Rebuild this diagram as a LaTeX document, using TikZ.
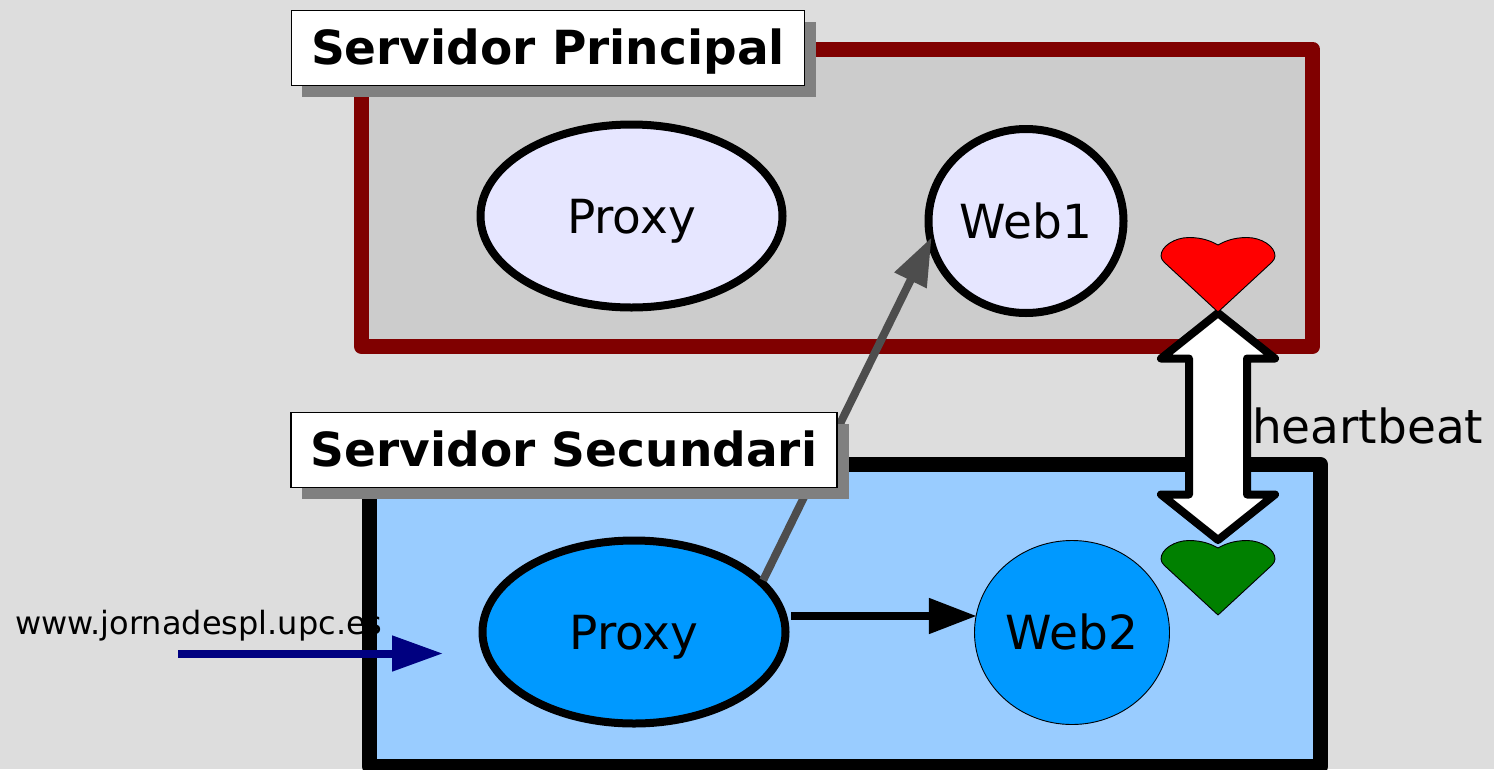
\documentclass[tikz,border=0pt]{standalone}
\usepackage{fontspec}
\setmainfont{DejaVu Sans}
\usetikzlibrary{shapes.geometric,arrows.meta}
\definecolor{bg}{HTML}{DDDDDD}
\definecolor{panelgrey}{HTML}{CCCCCC}
\definecolor{darkred}{HTML}{800000}
\definecolor{panelblue}{HTML}{99CCFF}
\definecolor{lilac}{HTML}{E6E6FF}
\definecolor{nodeblue}{HTML}{0099FF}
\definecolor{navyc}{HTML}{000080}
\definecolor{greyc}{HTML}{4D4D4D}
\definecolor{shadowc}{HTML}{808080}
\definecolor{greenc}{HTML}{008000}
\tikzset{
  x=1pt,y=-1pt,
  panel/.style={rectangle,draw,line width=15pt,line join=round,inner sep=0pt,outer sep=0pt},
  blob/.style={ellipse,draw=black,line width=8pt,inner sep=0pt,outer sep=0pt,
     font=\fontsize{47}{47}\selectfont,text height=34pt,text depth=0pt,align=center},
  titlebox/.style={rectangle,draw=black,line width=1.2pt,fill=white,inner sep=0pt,outer sep=0pt,
     minimum height=75pt,font=\fontsize{47}{47}\selectfont\bfseries,text height=32pt,text depth=0pt},
  titleshadow/.style={rectangle,fill=shadowc,inner sep=0pt,outer sep=0pt,minimum height=75pt},
  heartshape/.style={draw=black,line width=0.9pt,line join=round},
  conn/.style={line width=8pt}
}
\begin{document}
\begin{tikzpicture}
\useasboundingbox (0,0) rectangle (1494,769);
\fill[bg] (0,0) rectangle (1494,769);
% upper panel
\node[panel,draw=darkred,fill=panelgrey,minimum width=951pt,minimum height=297.5pt] (pri) at (837,197.75) {};
\node[titleshadow,minimum width=514pt] (ts1) at (559,59.5) {};
\node[titlebox,minimum width=513pt] (t1) at (548,48) {Servidor Principal};
\node[blob,fill=lilac,minimum width=302pt,minimum height=183pt] (px1) at (631.5,216) {Proxy};
\node[blob,fill=lilac,minimum width=195pt,minimum height=184pt] (w1) at (1026,221) {Web1};
% lower panel
\node[panel,draw=black,fill=panelblue,minimum width=951pt,minimum height=302pt] (sec) at (845,615.5) {};
\node[blob,fill=nodeblue,minimum width=303pt,minimum height=183pt] (px2) at (634,632) {Proxy};
\node[blob,line width=0.9pt,fill=nodeblue,minimum width=195pt,minimum height=184pt] (w2) at (1072,632.5) {Web2};
% connectors
\draw[conn,draw=greyc,shorten <=3pt,shorten >=-2.5pt,-{Triangle[length=48pt,width=34pt,fill=greyc]}] (px2.21) -- (w1.191.7);
\node[titleshadow,minimum width=547pt] (ts2) at (575.5,461.5) {};
\node[titlebox,minimum width=546pt] (t2) at (564,450) {Servidor Secundari};
\coordinate (blackstart) at (791,616);
\draw[conn,draw=black,shorten >=-1pt,-{Triangle[length=48pt,width=34pt,fill=black]}] (blackstart) -- (blackstart -| w2.171);
\node[inner sep=0pt,outer sep=0pt,anchor=base west,font=\fontsize{32}{32}\selectfont] (url) at (15,634) {www.jornadespl.upc.es};
\coordinate (navystart) at (178,653.5);
\coordinate (navyend) at (443,653.5);
\draw[conn,draw=navyc,-{Triangle[length=51pt,width=34pt,fill=navyc]}] (navystart) -- (navyend);
% heartbeat
\draw[line width=8pt,line join=round,fill=white]
  (1218,313) -- (1275,358.5) -- (1247,358.5) -- (1247,494.5) -- (1275,494.5)
  -- (1218,540) -- (1161,494.5) -- (1189,494.5) -- (1189,358.5) -- (1161,358.5) -- cycle;
\node[inner sep=0pt,outer sep=0pt,anchor=base west,font=\fontsize{47}{47}\selectfont] (hb) at (1252,443.5) {heartbeat};
\draw[heartshape,fill=red] (1218,312) -- (1165,263) .. controls (1162,260) and (1161,258) .. (1161,256)
  .. controls (1161,246) and (1175,237.5) .. (1189,237.5) .. controls (1202,237.5) and (1211,241) .. (1218,245)
  .. controls (1225,241) and (1234,237.5) .. (1247,237.5) .. controls (1261,237.5) and (1275,246) .. (1275,256)
  .. controls (1275,258) and (1274,260) .. (1271,263) -- cycle;
\draw[heartshape,fill=greenc] (1218,615) -- (1165,566) .. controls (1162,563) and (1161,561) .. (1161,559)
  .. controls (1161,549) and (1175,540.5) .. (1189,540.5) .. controls (1202,540.5) and (1211,544) .. (1218,548)
  .. controls (1225,544) and (1234,540.5) .. (1247,540.5) .. controls (1261,540.5) and (1275,549) .. (1275,559)
  .. controls (1275,561) and (1274,563) .. (1271,566) -- cycle;
\end{tikzpicture}
\end{document}
